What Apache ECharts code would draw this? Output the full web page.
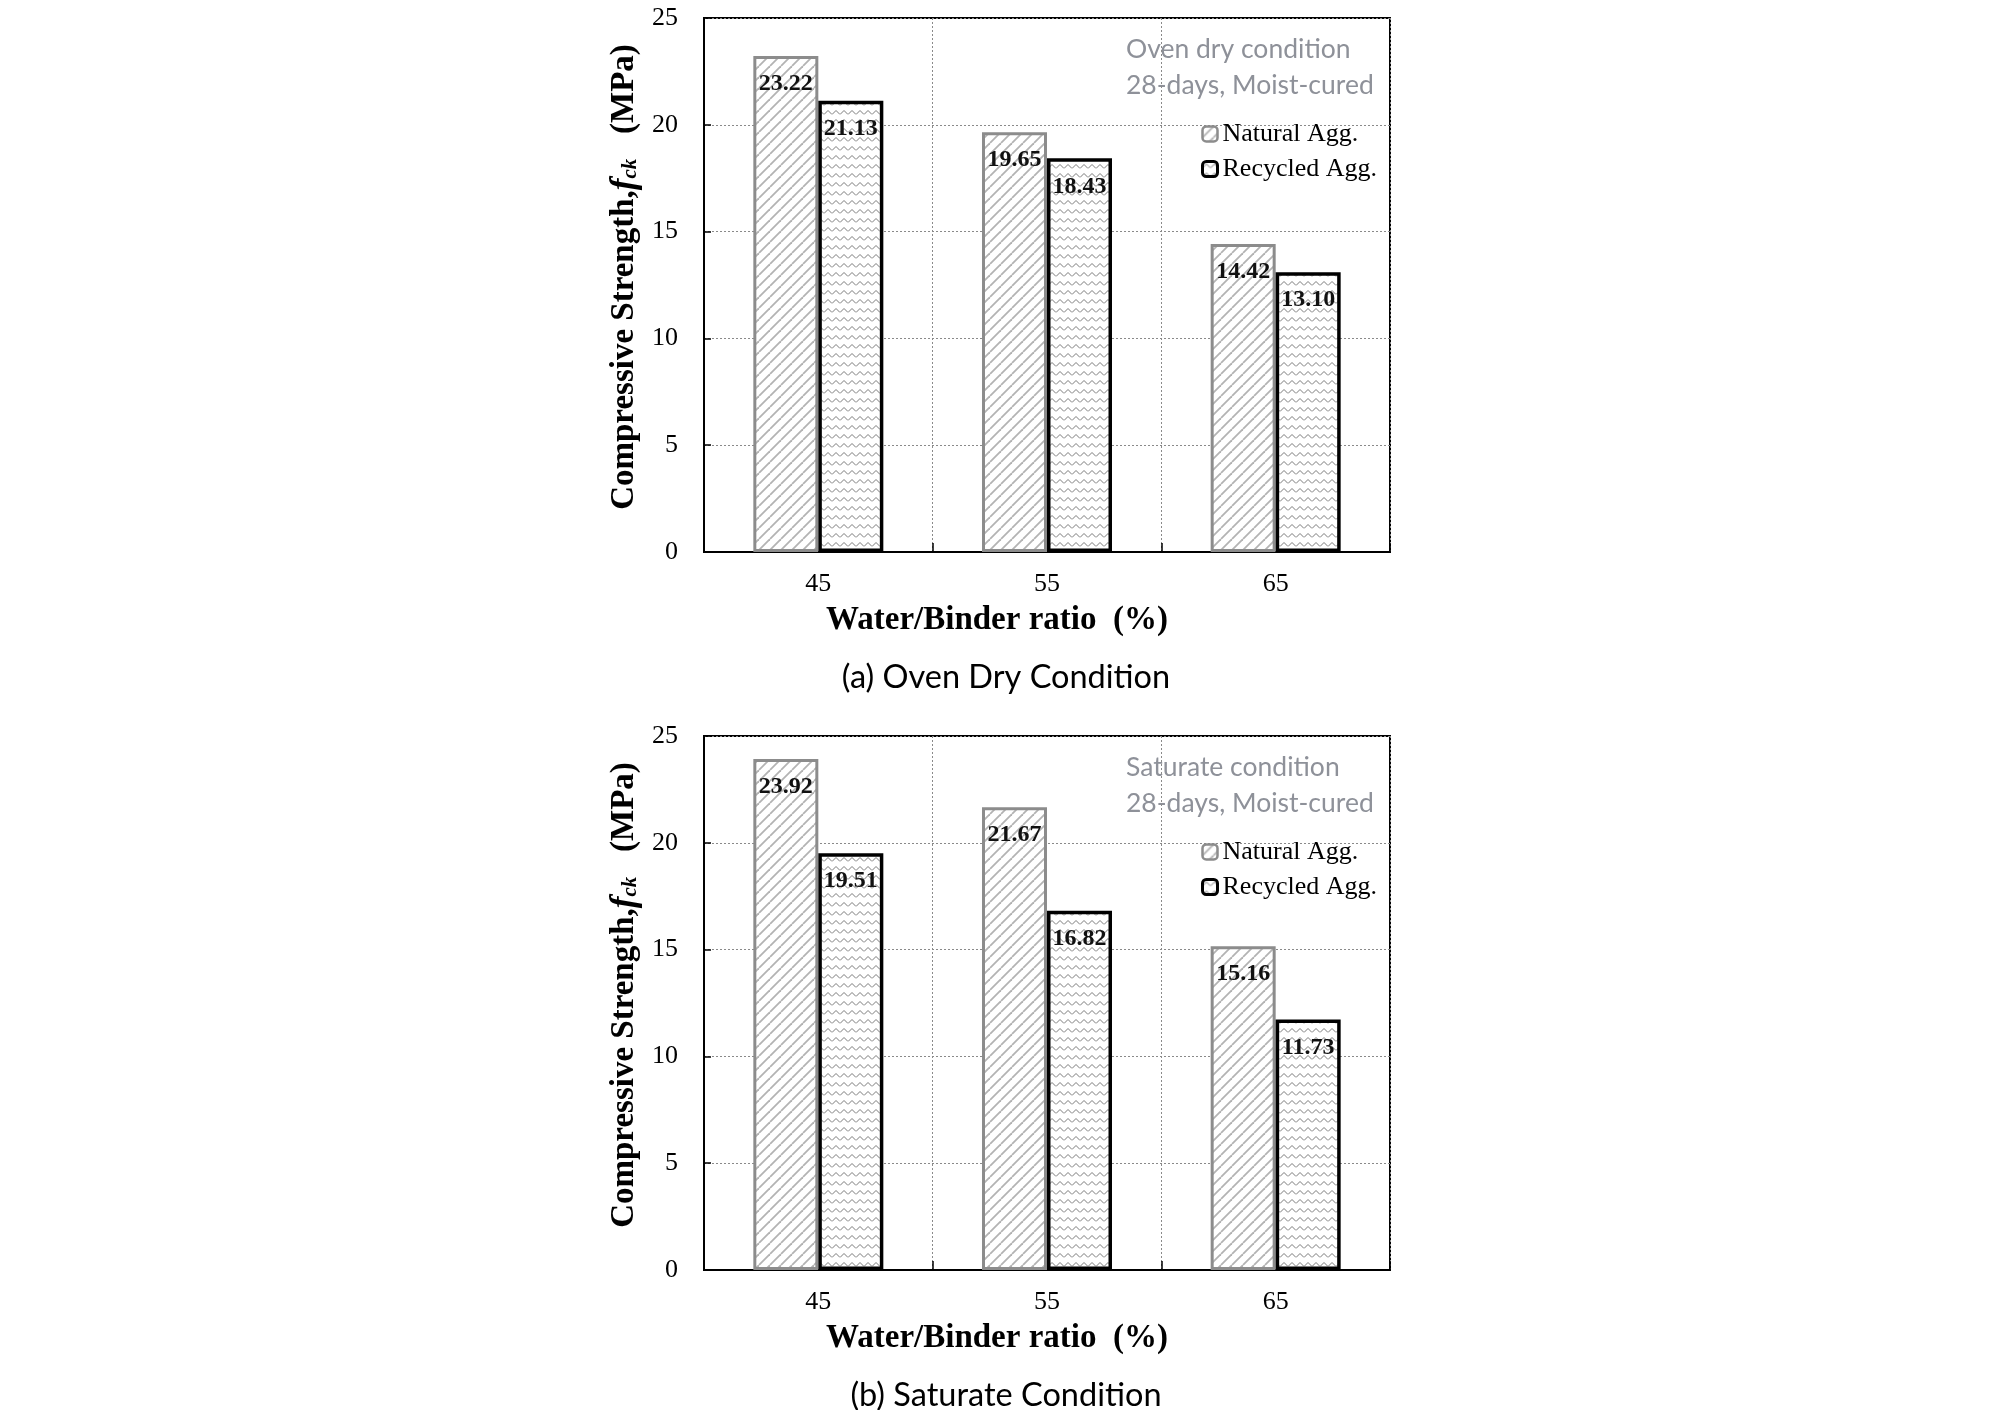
<!DOCTYPE html>
<html><head><meta charset="utf-8">
<script src="https://cdn.jsdelivr.net/npm/echarts@6/dist/echarts.min.js"></script>
<style>html,body{margin:0;padding:0;background:#fff}#c{width:2008px;height:1410px}</style>
</head><body><div id="c"></div>
<script>
// ---- data ----
const categories = ['45', '55', '65'];
const ovenNatural = [23.22, 19.65, 14.42];
const ovenRecycled = [21.13, 18.43, 13.10];
const satNatural = [23.92, 21.67, 15.16];
const satRecycled = [19.51, 16.82, 11.73];
const yMin = 0, yMax = 25, yInterval = 5;
const seriesNames = ['Natural Agg.', 'Recycled Agg.'];
const xTitle = 'Water/Binder ratio  (%)';
const captions = ['(a) Oven Dry Condition', '(b) Saturate Condition'];
const notes = [['Oven dry condition', '28-days, Moist-cured'], ['Saturate condition', '28-days, Moist-cured']];

// ---- patterns ----
function hatchCanvas() {
  const s = 11, c = document.createElement('canvas');
  c.width = s; c.height = s;
  const g = c.getContext('2d');
  g.fillStyle = '#fff'; g.fillRect(0, 0, s, s);
  g.strokeStyle = '#b3b3b3'; g.lineWidth = 1.8;
  for (let k = -1; k <= 1; k++) {
    g.beginPath(); g.moveTo(k * s, s); g.lineTo(k * s + s, 0); g.stroke();
  }
  return c;
}
function zigCanvas() {
  const w = 8, h = 9, c = document.createElement('canvas');
  c.width = w; c.height = h;
  const g = c.getContext('2d');
  g.fillStyle = '#fff'; g.fillRect(0, 0, w, h);
  g.strokeStyle = '#7a7a7a'; g.lineWidth = 1;
  g.beginPath(); g.moveTo(0, 6.5); g.lineTo(4, 2.5); g.lineTo(8, 6.5); g.stroke();
  return c;
}
const hatch = hatchCanvas(), zig = zigCanvas();

const SERIF = 'Liberation Serif';
const SANS = 'Lato';
const grids = [
  { left: 704, top: 18, width: 686, height: 534 },
  { left: 704, top: 736, width: 686, height: 534 }
];

function barSeries(name, data, idx, natural) {
  return {
    type: 'bar', name, data, xAxisIndex: idx, yAxisIndex: idx,
    barWidth: 65, barGap: '0%',
    itemStyle: natural
      ? { color: { image: hatch, repeat: 'repeat' }, borderColor: '#8c8c8c', borderWidth: 3 }
      : { color: { image: zig, repeat: 'repeat' }, borderColor: '#000', borderWidth: 3.5 },
    label: {
      show: true, position: 'insideTop', distance: 16,
      formatter: p => p.value.toFixed(2),
      fontFamily: SERIF, fontWeight: 'bold', fontSize: 24, color: '#111'
    },
    emphasis: { disabled: true }
  };
}

const xAxes = [], yAxes = [], series = [], legends = [], graphics = [];
const dataSets = [[ovenNatural, ovenRecycled], [satNatural, satRecycled]];
grids.forEach((gr, i) => {
  xAxes.push({
    gridIndex: i, type: 'category', data: categories,
    axisLine: { lineStyle: { color: '#000', width: 2 } },
    axisTick: { show: true, inside: true, length: 9, lineStyle: { color: '#000', width: 1.5 } },
    axisLabel: { margin: 19, fontFamily: SERIF, fontSize: 26, color: '#000' },
    splitLine: { show: true, lineStyle: { color: '#8a8a8a', type: [2, 2], width: 1 } },
    name: xTitle, nameLocation: 'middle', nameGap: 52,
    nameTextStyle: { fontFamily: SERIF, fontWeight: 'bold', fontSize: 33, color: '#000', padding: [0, 100, 0, 0] }
  });
  yAxes.push({
    gridIndex: i, type: 'value', min: yMin, max: yMax, interval: yInterval,
    axisLine: { show: true, lineStyle: { color: '#000', width: 2 } },
    axisTick: { show: true, inside: true, length: 7, lineStyle: { color: '#000', width: 1.5 } },
    axisLabel: { margin: 26, fontFamily: SERIF, fontSize: 26, color: '#000' },
    splitLine: { show: true, lineStyle: { color: '#8a8a8a', type: [2, 2], width: 1 } },
    name: '{b|Compressive Strength,}{i|f}{s|ck}{b|   (MPa)}',
    nameLocation: 'middle', nameRotate: 90, nameGap: 62,
    nameTextStyle: {
      color: '#000', padding: [0, 0, 0, 16],
      rich: {
        b: { fontFamily: SERIF, fontWeight: 'bold', fontSize: 33, color: '#000' },
        i: { fontFamily: SERIF, fontWeight: 'bold', fontStyle: 'italic', fontSize: 35, color: '#000' },
        s: { fontFamily: SERIF, fontWeight: 'bold', fontStyle: 'italic', fontSize: 21, color: '#000', padding: [13, 0, 0, 0] }
      }
    }
  });
  series.push(barSeries(seriesNames[0], dataSets[i][0], i, true));
  series.push(barSeries(seriesNames[1], dataSets[i][1], i, false));
  legends.push({
    orient: 'vertical', left: 1196, top: gr.top + 98,
    itemWidth: 15, itemHeight: 15, itemGap: 9, selectedMode: false,
    textStyle: { fontFamily: SERIF, fontSize: 26, color: '#000', padding: [0, 0, 0, 0] },
    data: [
      { name: seriesNames[0], itemStyle: { borderWidth: 2.5, borderColor: '#8c8c8c' } },
      { name: seriesNames[1], itemStyle: { borderWidth: 3, borderColor: '#000' } }
    ]
  });
  notes[i].forEach((t, k) => {
    graphics.push({
      type: 'text', x: 1126, y: gr.top + 31 + k * 36,
      style: { text: t, fontFamily: SANS, fontSize: 26.5, fill: '#8e9199', verticalAlign: 'middle' }
    });
  });
  graphics.push({
    type: 'text', x: 1006, y: gr.top + gr.height + 126,
    style: { text: captions[i], fontFamily: SANS, fontSize: 32.5, fill: '#000', align: 'center', verticalAlign: 'middle' }
  });
});

const chart = echarts.init(document.getElementById('c'));
chart.setOption({
  animation: false,
  backgroundColor: '#fff',
  grid: grids.map(g => Object.assign({ show: true, borderColor: '#000', borderWidth: 2, backgroundColor: 'transparent' }, g)),
  xAxis: xAxes, yAxis: yAxes, series, legend: legends, graphic: graphics
});
</script>
</body></html>
